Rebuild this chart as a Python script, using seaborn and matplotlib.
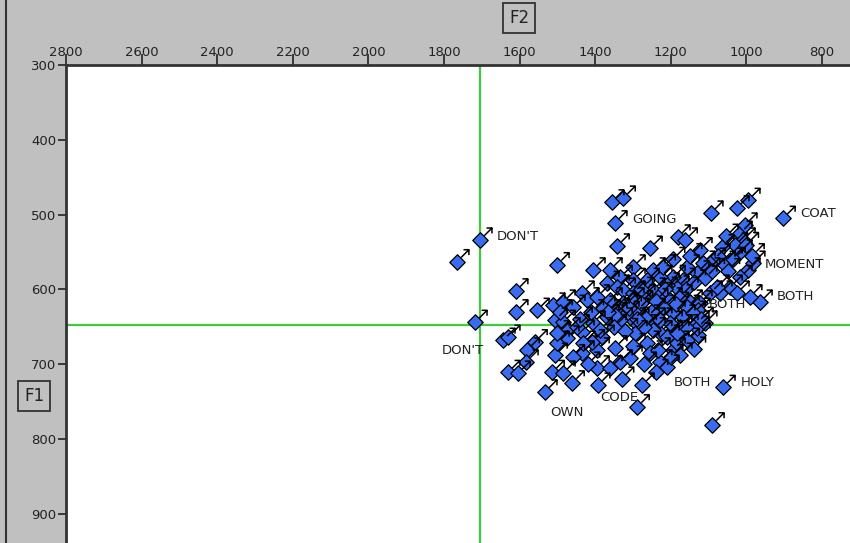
import numpy as np
import pandas as pd
import matplotlib
matplotlib.use("Agg")
import matplotlib.pyplot as plt
from matplotlib.path import Path
from matplotlib.markers import MarkerStyle
from matplotlib.lines import Line2D
import seaborn as sns

# Valores (F2 em Hz, F1 em Hz)
f2 = [1766, 1705, 1718, 903, 1094, 1025, 996, 1356, 1326, 1348, 1342, 1255, 1181, 1162,
      1501, 1610, 1610, 1554, 1512, 1485, 1506, 1485, 1472, 1459, 1435, 1422, 1475, 1435,
      1644, 1631, 1580, 1559, 1583, 1631, 1604, 1506, 1514, 1485, 1461, 1533, 1435, 1395,
      1382, 1408, 1395, 1361, 1334, 1308, 1348, 1393, 1289, 1276, 1295, 1263, 1255, 1229,
      1210, 1234, 1194, 1176, 1184, 1157, 1128, 1202, 1229, 1247, 1300, 1062, 1091, 964,
      996, 983, 1017, 1043, 1070, 1025, 991, 1017, 1009, 1030, 1017, 1065, 1043, 1062,
      1088, 1102, 1115, 1131, 1157, 1168, 1194, 1184, 1229, 1210, 1247, 1300, 1263, 1300,
      1334, 1361, 1406, 1369, 1342, 1326, 1300, 1274, 1247, 1229, 1202, 1176, 1149, 1123,
      1157, 1128, 1096, 1078, 1493, 1395, 1361, 1342, 1316, 1289, 1326, 1369, 1334, 1263,
      1247, 1221, 1194, 1168, 1141, 1131, 1176, 1202, 1229, 1247, 1210, 1184, 1406, 1448,
      1387, 1432, 1501, 1501, 1123, 1004, 1054, 1131, 1110, 1321, 1303, 1348,
      1380, 1365, 1310, 1290, 1280, 1350, 1320, 1270, 1240, 1215, 1185, 1160, 1140, 1110,
      1090, 1075, 1050, 1035, 1000, 985, 1150, 1195, 1220, 1280, 1410, 1440, 1460, 1420,
      1300, 1270, 1160, 1120, 1200, 1240, 1330, 1140]
f1 = [563, 534, 644, 505, 498, 491, 481, 483, 478, 511, 542, 545, 530, 534,
      567, 602, 630, 628, 621, 617, 641, 644, 654, 624, 605, 614, 665, 657,
      668, 664, 681, 670, 697, 711, 712, 688, 711, 712, 725, 737, 685, 681,
      664, 670, 705, 705, 697, 692, 678, 728, 757, 728, 658, 672, 685, 697,
      704, 681, 681, 688, 672, 668, 661, 658, 658, 641, 641, 731, 781, 617,
      574, 565, 584, 597, 605, 605, 610, 525, 534, 541, 550, 543, 561, 565,
      561, 574, 565, 578, 570, 588, 584, 598, 584, 594, 574, 570, 588, 588,
      584, 574, 574, 592, 597, 601, 605, 610, 601, 607, 614, 610, 617, 618,
      624, 628, 605, 597, 630, 610, 614, 628, 632, 628, 618, 637, 641, 637,
      628, 624, 632, 637, 632, 645, 650, 645, 641, 654, 664, 658, 645, 650,
      654, 672, 672, 658, 547, 514, 529, 652, 645, 621, 614, 634,
      625, 630, 625, 640, 618, 650, 655, 650, 615, 600, 620, 600, 590, 585,
      575, 555, 575, 560, 540, 555, 555, 560, 570, 600, 630, 640, 690, 700,
      675, 700, 650, 640, 690, 710, 720, 680]

# Rótulos das palavras (texto, F2, F1)
rotulos = ["DON'T", "GOING", "COAT", "MOMENT", "BOTH", "BOTH", "DON'T", "BOTH", "HOLY", "CODE", "OWN"]
rot_f2 = [1660, 1303, 858, 951, 919, 1099, 1805, 1192, 1014, 1387, 1520]
rot_f1 = [529, 506, 498, 567, 610, 620, 681, 724, 724, 744, 765]

df = pd.DataFrame({"F2": f2, "F1": f1})

sns.set_theme(style="white")
plt.rcParams["font.family"] = ["DejaVu Sans"]

cinza = "#c0c0c0"
fig = plt.figure(figsize=(8.5, 5.43), dpi=100, facecolor=cinza)
ax = fig.add_axes([66 / 850, 0, 1 - 66 / 850, (543 - 65) / 543])
ax.set_facecolor("white")

# linhas verdes de referência
ax.axvline(1705, color="#3ccc3c", lw=1.6, zorder=1)
ax.axhline(648, color="#3ccc3c", lw=1.6, zorder=1)

sns.scatterplot(data=df, x="F2", y="F1", marker="D", s=62, color="#3a6cf2",
                edgecolor="black", linewidth=0.9, ax=ax, zorder=3)

# seta pequena (↗) ao lado de cada ponto
seta = Path([(0.35, 0.35), (1, 1), (0.55, 1), (1, 1), (1, 0.55)],
            [Path.MOVETO, Path.LINETO, Path.MOVETO, Path.LINETO, Path.LINETO])
ax.scatter(df["F2"], df["F1"], marker=MarkerStyle(seta), s=300,
           facecolors="none", edgecolors="black", linewidths=1.1, zorder=4)

for txt, x, y in zip(rotulos, rot_f2, rot_f1):
    ax.text(x, y, txt, ha="left", va="center", fontsize=9.5, color="#222222", zorder=5)

ax.set_xlim(2800, 726)
ax.set_ylim(939, 300)
ax.xaxis.tick_top()
ax.set_xticks(np.arange(2800, 799, -200))
ax.set_yticks(np.arange(300, 901, 100))
ax.tick_params(direction="out", length=6, width=1.2, color="#222222",
               labelsize=9.5, labelcolor="#222222", pad=1)
ax.tick_params(axis="x", bottom=False, top=True, length=8, pad=-4)
ax.tick_params(axis="y", left=True)
ax.set_xlabel("")
ax.set_ylabel("")
for lado in ["right", "bottom"]:
    ax.spines[lado].set_visible(False)
for lado in ["top", "left"]:
    ax.spines[lado].set_color("#333333")
    ax.spines[lado].set_linewidth(2)

fig.add_artist(Line2D([6 / 850, 6 / 850], [0, 1], color="#333333", lw=1.5))
caixa = dict(boxstyle="square,pad=0.35", fc=cinza, ec="#333333", lw=1.3)
fig.text(519 / 850, 1 - 18 / 543, "F2", ha="center", va="center", fontsize=12,
         color="#222222", bbox=caixa)
fig.text(34 / 850, 1 - 396 / 543, "F1", ha="center", va="center", fontsize=12,
         color="#222222", bbox=caixa)

fig.savefig("out.png", dpi=100, facecolor=cinza)
